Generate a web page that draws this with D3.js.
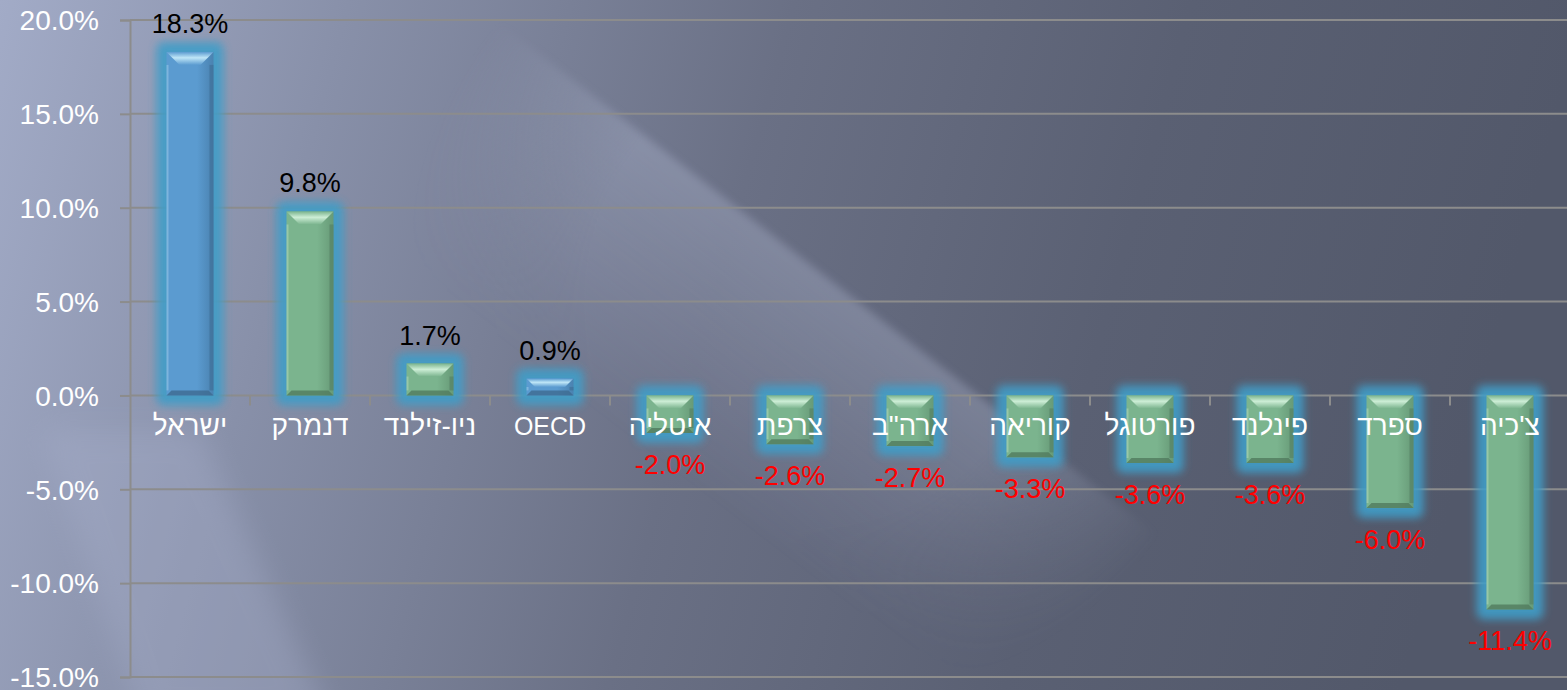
<!DOCTYPE html>
<html>
<head>
<meta charset="utf-8">
<script src="https://cdn.jsdelivr.net/npm/d3@7"></script>
<style>
  html, body { margin: 0; padding: 0; overflow: hidden; background: #5f6578; }
  svg text { font-family: "Liberation Sans", "DejaVu Sans", sans-serif; }
</style>
</head>
<body>
<div id="chart"></div>
<script>
// data
const categories = ["ישראל", "דנמרק", "ניו-זילנד", "OECD", "איטליה", "צרפת", "ארה\"ב", "קוריאה", "פורטוגל", "פינלנד", "ספרד", "צ'כיה"];
const values = [18.3, 9.8, 1.7, 0.9, -2.0, -2.6, -2.7, -3.3, -3.6, -3.6, -6.0, -11.4];
const highlighted = ["ישראל", "OECD"];
const yTicks = [20, 15, 10, 5, 0, -5, -10, -15];

const width = 1567, height = 690;
const data = categories.map((c, i) => ({ name: c, value: values[i] }));
const pct = d => d3.format(".1f")(d).replace("\u2212", "-") + "%";

const svg = d3.select("#chart").append("svg")
    .attr("width", width)
    .attr("height", height);

const defs = svg.append("defs");

// background gradient
const bg = defs.append("linearGradient").attr("id", "bg")
    .attr("x1", "0").attr("y1", "0").attr("x2", "1").attr("y2", "0.12");
bg.append("stop").attr("offset", "0").attr("stop-color", "#a2abc7");
bg.append("stop").attr("offset", "0.22").attr("stop-color", "#8890a9");
bg.append("stop").attr("offset", "0.5").attr("stop-color", "#6a7085");
bg.append("stop").attr("offset", "0.75").attr("stop-color", "#5a6073");
bg.append("stop").attr("offset", "1").attr("stop-color", "#52586a");

// light streak, bright at its right edge and fading toward lower left
const streak = defs.append("linearGradient").attr("id", "streak")
    .attr("gradientUnits", "userSpaceOnUse")
    .attr("x1", 648).attr("y1", 451).attr("x2", 800).attr("y2", 252);
streak.append("stop").attr("offset", "0").attr("stop-color", "#c0c8e4").attr("stop-opacity", 0);
streak.append("stop").attr("offset", "1").attr("stop-color", "#c0c8e4").attr("stop-opacity", 0.3);

// fade the streak out along its length
const fade = defs.append("radialGradient").attr("id", "fade")
    .attr("gradientUnits", "userSpaceOnUse")
    .attr("cx", 820).attr("cy", 290).attr("r", 420);
fade.append("stop").attr("offset", "0").attr("stop-color", "#fff");
fade.append("stop").attr("offset", "0.55").attr("stop-color", "#fff");
fade.append("stop").attr("offset", "1").attr("stop-color", "#000");
defs.append("mask").attr("id", "streakMask")
    .attr("maskUnits", "userSpaceOnUse")
    .attr("x", 0).attr("y", 0).attr("width", width).attr("height", height)
    .append("rect").attr("width", width).attr("height", height).attr("fill", "url(#fade)");

defs.append("filter").attr("id", "soft")
    .attr("x", "-20%").attr("y", "-20%").attr("width", "140%").attr("height", "140%")
    .append("feGaussianBlur").attr("stdDeviation", 4);
defs.append("filter").attr("id", "softer")
    .attr("x", "-50%").attr("y", "-50%").attr("width", "200%").attr("height", "200%")
    .append("feGaussianBlur").attr("stdDeviation", 14);

defs.append("filter").attr("id", "glow")
    .attr("x", "-50%").attr("y", "-50%").attr("width", "200%").attr("height", "200%")
    .append("feGaussianBlur").attr("stdDeviation", 4);

// bar gradients
const palettes = {
    blue: { left: "#5b9bd0", right: "#4a82b0", hi: "#bfe6f7", lo: "#3d6a90" },
    green: { left: "#7bb48e", right: "#679a77", hi: "#cdeed6", lo: "#517a5e" }
};
Object.entries(palettes).forEach(([k, p]) => {
    const g = defs.append("linearGradient").attr("id", "body-" + k)
        .attr("x1", "0").attr("x2", "1").attr("y1", "0").attr("y2", "0");
    g.append("stop").attr("offset", "0").attr("stop-color", p.left);
    g.append("stop").attr("offset", "0.65").attr("stop-color", p.left);
    g.append("stop").attr("offset", "1").attr("stop-color", p.right);
    const h = defs.append("linearGradient").attr("id", "hi-" + k)
        .attr("x1", "0").attr("x2", "0").attr("y1", "0").attr("y2", "1");
    h.append("stop").attr("offset", "0").attr("stop-color", p.left);
    h.append("stop").attr("offset", "0.45").attr("stop-color", p.hi);
    h.append("stop").attr("offset", "1").attr("stop-color", p.left);
});

svg.append("rect").attr("width", width).attr("height", height).attr("fill", "url(#bg)");

svg.append("g").attr("mask", "url(#streakMask)")
    .append("polygon")
    .attr("points", "457,-10 1370,700 1188,938 275,228")
    .attr("fill", "url(#streak)")
    .attr("filter", "url(#soft)");

// lighter streak in the lower left corner
svg.append("polygon")
    .attr("points", "40,430 200,430 330,720 140,720")
    .attr("fill", "#a8b0cc")
    .attr("opacity", 0.35)
    .attr("filter", "url(#softer)");

// scales
const x = d3.scaleBand().domain(categories).range([130, 1570]).padding(0);
const y = d3.scaleLinear().domain([-15, 20]).range([677, 20]);
const barW = 47;

// gridlines
svg.append("g").selectAll("line.grid")
    .data(yTicks)
    .join("line")
    .attr("class", "grid")
    .attr("x1", 130).attr("x2", width)
    .attr("y1", d => y(d)).attr("y2", d => y(d))
    .attr("stroke", "#8c8c8c").attr("stroke-width", 2);

// y axis
const yAxis = d3.axisLeft(y).tickValues(yTicks)
    .tickSize(10)
    .tickFormat(pct);
const gy = svg.append("g").attr("transform", "translate(130,0)").call(yAxis);
gy.select(".domain").attr("stroke", "#8c8c8c").attr("stroke-width", 2);
gy.selectAll(".tick line").attr("stroke", "#8c8c8c").attr("stroke-width", 2);
gy.selectAll(".tick text")
    .attr("x", -31)
    .attr("fill", "#ffffff")
    .attr("font-size", 28)
    .attr("dy", "0.35em");

// category tick marks on the zero line
svg.append("g").selectAll("line.xt")
    .data(categories.slice(1))
    .join("line")
    .attr("x1", d => x(d)).attr("x2", d => x(d))
    .attr("y1", y(0)).attr("y2", y(0) + 10)
    .attr("stroke", "#8c8c8c").attr("stroke-width", 2);

// bars
const bars = svg.append("g").selectAll("g.bar")
    .data(data)
    .join("g")
    .attr("class", "bar");

const bx = d => x(d.name) + x.bandwidth() / 2 - barW / 2;
const bTop = d => y(Math.max(0, d.value));
const bBot = d => y(Math.min(0, d.value));
const kind = d => highlighted.includes(d.name) ? "blue" : "green";
const topB = d => Math.min(13, (bBot(d) - bTop(d)) / 2);
const botB = d => Math.min(5, (bBot(d) - bTop(d)) / 3);

bars.append("rect")
    .attr("x", d => bx(d) - 10)
    .attr("y", d => bTop(d) - 10)
    .attr("width", barW + 20)
    .attr("height", d => bBot(d) - bTop(d) + 20)
    .attr("rx", 7)
    .attr("fill", "#3f9dc8")
    .attr("opacity", 0.9)
    .attr("filter", "url(#glow)");

bars.append("rect")
    .attr("x", bx)
    .attr("y", bTop)
    .attr("width", barW)
    .attr("height", d => bBot(d) - bTop(d))
    .attr("fill", d => `url(#body-${kind(d)})`);

// top bevel (light)
bars.append("polygon")
    .attr("points", d => {
        const x0 = bx(d), t = bTop(d), h = topB(d);
        return [[x0, t], [x0 + barW, t], [x0 + barW - h, t + h], [x0 + h, t + h]].join(" ");
    })
    .attr("fill", d => `url(#hi-${kind(d)})`);

// bottom bevel (dark)
bars.append("polygon")
    .attr("points", d => {
        const x0 = bx(d), b = bBot(d), h = botB(d);
        return [[x0, b], [x0 + barW, b], [x0 + barW - h, b - h], [x0 + h, b - h]].join(" ");
    })
    .attr("fill", d => palettes[kind(d)].lo)
    .attr("opacity", 0.8);

// side bevels
bars.append("rect")
    .attr("x", d => bx(d) + barW - 4)
    .attr("y", d => bTop(d) + topB(d))
    .attr("width", 4)
    .attr("height", d => Math.max(0, bBot(d) - bTop(d) - topB(d) - botB(d)))
    .attr("fill", d => palettes[kind(d)].lo)
    .attr("opacity", 0.55);
bars.append("rect")
    .attr("x", bx)
    .attr("y", d => bTop(d) + topB(d))
    .attr("width", 2)
    .attr("height", d => Math.max(0, bBot(d) - bTop(d) - topB(d) - botB(d)))
    .attr("fill", d => palettes[kind(d)].hi)
    .attr("opacity", 0.35);

// category labels
svg.append("g").selectAll("text.cat")
    .data(data)
    .join("text")
    .attr("class", "cat")
    .attr("x", d => x(d.name) + x.bandwidth() / 2)
    .attr("y", y(0) + 40)
    .attr("text-anchor", "middle")
    .attr("fill", "#ffffff")
    .attr("font-size", d => /[A-Z]/.test(d.name) ? 25 : 28)
    .text(d => d.name);

// value labels
svg.append("g").selectAll("text.val")
    .data(data)
    .join("text")
    .attr("class", "val")
    .attr("x", d => x(d.name) + x.bandwidth() / 2)
    .attr("y", d => d.value >= 0 ? bTop(d) - 19 : bBot(d) + 41)
    .attr("text-anchor", "middle")
    .attr("fill", d => d.value >= 0 ? "#000000" : "#ff0000")
    .attr("font-size", 27)
    .text(d => pct(d.value));
</script>
</body>
</html>
